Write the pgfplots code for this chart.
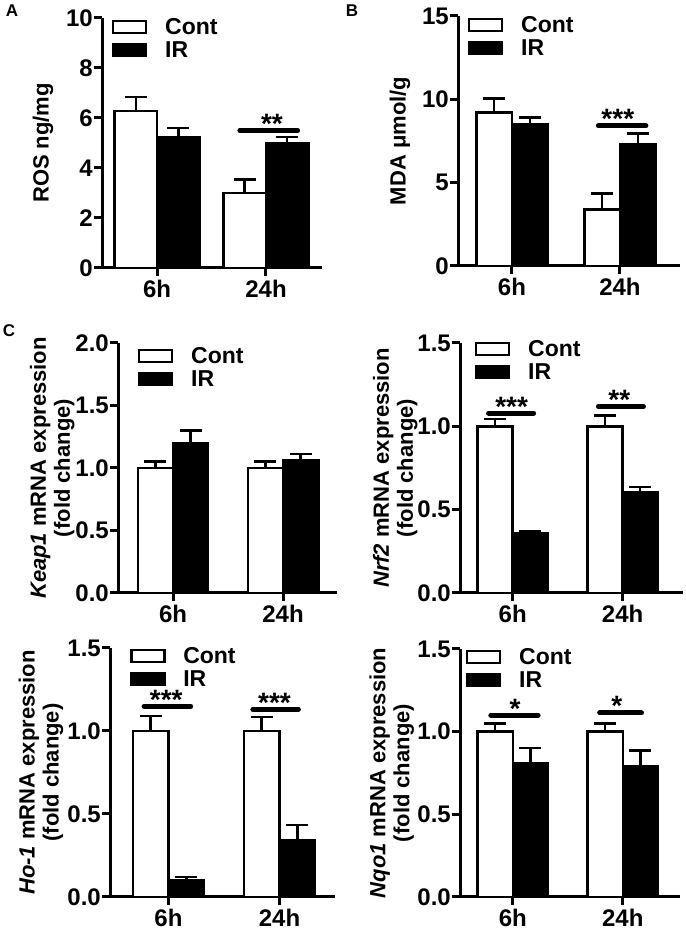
\documentclass[border=0pt]{standalone}
\usepackage{fontspec}
\setmainfont{Liberation Sans}
\usepackage{pgfplots}
\pgfplotsset{compat=1.18}

\newcommand{\fs}{\fontsize{22}{24}\selectfont\bfseries}
\newcommand{\tfs}{\fontsize{24}{26}\selectfont\bfseries}
\newcommand{\lfs}{\fontsize{23}{25}\selectfont\bfseries}
\newcommand{\starfs}{\fontsize{28}{30}\selectfont\bfseries}
\newcommand{\letfs}{\fontsize{17}{19}\selectfont\bfseries}

\pgfplotsset{
  gp/.style={
    scale only axis,
    axis x line*=bottom, axis y line*=left,
    axis line style={line width=3pt},
    every tick/.style={black, line width=3pt},
    tick align=outside,
    major tick length=8pt,
    xtick={0,1}, xticklabels={6h,24h},
    tick label style={font=\tfs},
    /pgf/number format/assume math mode=true,
    yticklabel style={inner xsep=1pt},
    xticklabel style={inner ysep=4pt},
    ymin=0,
    ybar,
    clip=false,
    legend cell align=left,
    legend style={draw=none, fill=none, inner sep=0pt, outer sep=0pt,
      anchor=north west, font=\lfs, row sep=6pt,
      nodes={inner sep=0pt}},
    legend image code/.code={\draw[##1, line width=2.5pt] (1.25pt,-6pt) rectangle (34.25pt,6pt); \path (52pt,0pt);},
  },
  ylab/.style={every axis y label/.style={at={(axis description cs:#1,0.5)}, rotate=90, anchor=center, font=\fs, align=center}},
  cont/.style={bar shift=0pt, fill=white, draw=black, line width=2.5pt,
    error bars/.cd, y dir=plus, y explicit,
    error bar style={line width=2.5pt, black},
    error mark options={rotate=90, black, line width=2.5pt, mark size=11pt}},
  ir/.style={bar shift=0pt, fill=black, draw=black, line width=2.5pt,
    error bars/.cd, y dir=plus, y explicit,
    error bar style={line width=2.5pt, black},
    error mark options={rotate=90, black, line width=2.5pt, mark size=11pt}},
  dec/.style={/pgf/number format/.cd, fixed, fixed zerofill, precision=1},
}

\newcommand{\sig}[4]{%
  \draw[line width=5pt, line cap=round] (axis cs:#1,#3) -- (axis cs:#2,#3);}
\newcommand{\stars}[3]{%
  \node[font=\starfs, anchor=base, inner sep=0pt, yshift=-3pt] at (axis cs:#1,#2) {#3};}

\begin{document}
\begin{tikzpicture}
\useasboundingbox (0pt,0pt) rectangle (685pt,931pt);

\node[font=\letfs] at (12pt,920pt) {A};
\node[font=\letfs] at (352pt,920pt) {B};
\node[font=\letfs] at (9pt,600pt) {C};

% ---------- A ----------
\begin{axis}[gp, at={(102pt,663pt)}, anchor=south west, width=220pt, height=250pt,
  xmin=-0.505, xmax=1.514, ymax=10, ytick={0,2,4,6,8,10},
  bar width=0.39, ylab=-0.268, ylabel={ROS ng/mg},
  legend style={at={(rel axis cs:0.045,1.0)}}]
\addplot[cont] coordinates {(-0.195,6.27) +- (0,0.56) (0.805,3.0) +- (0,0.53)};
\addplot[ir] coordinates {(0.195,5.24) +- (0,0.36) (1.195,5.0) +- (0,0.23)};
\legend{Cont,IR}
\sig{0.76}{1.29}{5.5}{}
\stars{1.055}{5.5}{**}
\end{axis}

% ---------- B ----------
\begin{axis}[gp, at={(458pt,665pt)}, anchor=south west, width=222pt, height=250pt,
  xmin=-0.5, xmax=1.556, ymax=15, ytick={0,5,10,15},
  bar width=0.33, ylab=-0.261, ylabel={MDA μmol/g},
  legend style={at={(rel axis cs:0.045,1.0)}}]
\addplot[cont] coordinates {(-0.165,9.2) +- (0,0.86) (0.835,3.39) +- (0,0.96)};
\addplot[ir] coordinates {(0.165,8.52) +- (0,0.4) (1.165,7.31) +- (0,0.65)};
\legend{Cont,IR}
\sig{0.80}{1.24}{8.4}{}
\stars{0.98}{8.4}{***}
\end{axis}

% ---------- Keap1 ----------
\begin{axis}[gp, at={(118pt,338pt)}, anchor=south west, width=219pt, height=250pt,
  xmin=-0.5, xmax=1.49, ymax=2, ytick={0,0.5,1,1.5,2}, yticklabel style={dec},
  bar width=0.32, ylab=-0.30,
  ylabel={\textit{Keap1} mRNA expression\\(fold change)},
  legend style={at={(rel axis cs:0.091,0.984)}}]
\addplot[cont] coordinates {(-0.16,1.0) +- (0,0.05) (0.84,1.0) +- (0,0.05)};
\addplot[ir] coordinates {(0.16,1.2) +- (0,0.1) (1.16,1.06) +- (0,0.05)};
\legend{Cont,IR}
\end{axis}

% ---------- Nrf2 ----------
\begin{axis}[gp, at={(460pt,338pt)}, anchor=south west, width=223pt, height=250pt,
  xmin=-0.48, xmax=1.55, ymax=1.5, ytick={0,0.5,1,1.5}, yticklabel style={dec},
  bar width=0.32, ylab=-0.29,
  ylabel={\textit{Nrf2} mRNA expression\\(fold change)},
  legend style={at={(rel axis cs:0.067,1.012)}}]
\addplot[cont] coordinates {(-0.16,1.0) +- (0,0.045) (0.84,1.0) +- (0,0.065)};
\addplot[ir] coordinates {(0.16,0.36) +- (0,0.01) (1.16,0.605) +- (0,0.03)};
\legend{Cont,IR}
\sig{-0.22}{0.19}{1.079}{}
\stars{-0.01}{1.079}{***}
\sig{0.78}{1.19}{1.119}{}
\stars{0.97}{1.119}{**}
\end{axis}

% ---------- Ho-1 ----------
\begin{axis}[gp, at={(110pt,34pt)}, anchor=south west, width=225pt, height=249pt,
  xmin=-0.527, xmax=1.5, ymax=1.5, ytick={0,0.5,1,1.5}, yticklabel style={dec},
  bar width=0.32, ylab=-0.307,
  ylabel={\textit{Ho-1} mRNA expression\\(fold change)},
  legend style={at={(rel axis cs:0.089,1.004)}}]
\addplot[cont] coordinates {(-0.16,1.0) +- (0,0.09) (0.84,1.0) +- (0,0.085)};
\addplot[ir] coordinates {(0.16,0.1) +- (0,0.02) (1.16,0.34) +- (0,0.095)};
\legend{Cont,IR}
\sig{-0.22}{0.20}{1.149}{}
\stars{-0.02}{1.149}{***}
\sig{0.76}{1.17}{1.13}{}
\stars{0.955}{1.13}{***}
\end{axis}

% ---------- Nqo1 ----------
\begin{axis}[gp, at={(460pt,34pt)}, anchor=south west, width=220pt, height=248pt,
  xmin=-0.48, xmax=1.52, ymax=1.5, ytick={0,0.5,1,1.5}, yticklabel style={dec},
  bar width=0.32, ylab=-0.31,
  ylabel={\textit{Nqo1} mRNA expression\\(fold change)},
  legend style={at={(rel axis cs:0.027,1.004)}}]
\addplot[cont] coordinates {(-0.16,1.0) +- (0,0.05) (0.84,1.0) +- (0,0.05)};
\addplot[ir] coordinates {(0.16,0.81) +- (0,0.09) (1.16,0.79) +- (0,0.095)};
\legend{Cont,IR}
\sig{-0.20}{0.23}{1.10}{}
\stars{0.02}{1.10}{*}
\sig{0.79}{1.17}{1.113}{}
\stars{0.945}{1.113}{*}
\end{axis}
\end{tikzpicture}
\end{document}
